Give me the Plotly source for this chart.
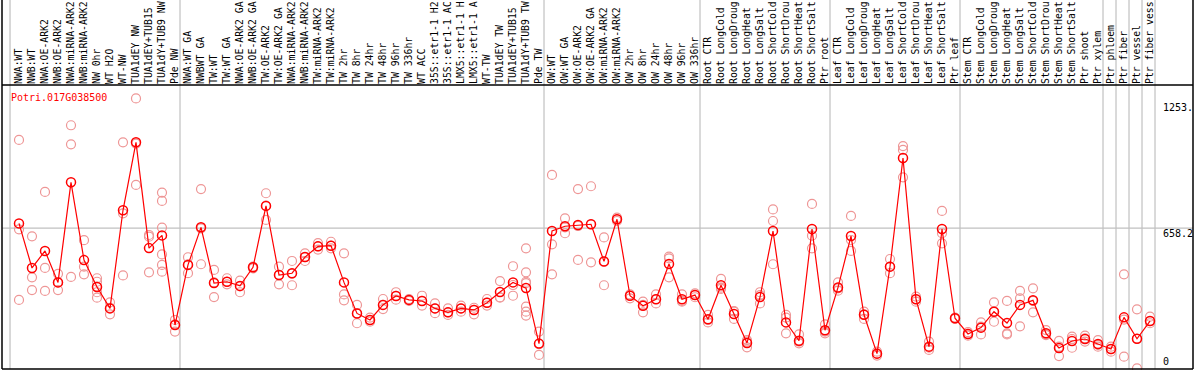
import plotly.graph_objects as go

gene = "Potri.017G038500"

categories = [
    "NWA:WT", "NWB:WT", "NWA:OE-ARK2", "NWB:OE-ARK2", "NWA:miRNA-ARK2", "NWB:miRNA-ARK2",
    "NW 0hr", "WT H2O", "WT-NW", "TUA1dEY NW", "TUA1dEY+TUB15 ", "TUA1dY+TUB9 NW", "Pde NW",
    "NWA:WT GA", "NWBWT GA", "TW:WT", "TW:WT GA", "NWA:OE-ARK2 GA", "NWB:OE-ARK2 GA",
    "TW:OE-ARK2", "TW:OE-ARK2 GA", "NWA:miRNA-ARK2", "NWB:miRNA-ARK2", "TW:miRNA-ARK2",
    "TW:miRNA-ARK2", "TW 2hr", "TW 8hr", "TW 24hr", "TW 48hr", "TW 96hr", "TW 336hr",
    "WT ACC", "35S::etr1-1 H2", "35S::etr1-1 AC", "LMX5::etr1-1 H", "LMX5::etr1-1 A",
    "WT-TW", "TUA1dEY TW", "TUA1dEY+TUB15 ", "TUA1dY+TUB9 TW", "Pde TW",
    "OW:WT", "OW:WT GA", "OW:OE-ARK2", "OW:OE-ARK2 GA", "OW:miRNA-ARK2", "OW:miRNA-ARK2",
    "OW 2hr", "OW 8hr", "OW 24hr", "OW 48hr", "OW 96hr", "OW 336hr",
    "Root CTR", "Root LongCold", "Root LongDroug", "Root LongHeat", "Root LongSalt",
    "Root ShortCold", "Root ShortDrou", "Root ShortHeat", "Root ShortSalt", "Ptr root",
    "Leaf CTR", "Leaf LongCold", "Leaf LongDroug", "Leaf LongHeat", "Leaf LongSalt",
    "Leaf ShortCold", "Leaf ShortDrou", "Leaf ShortHeat", "Leaf ShortSalt", "Ptr leaf",
    "Stem CTR", "Stem LongCold", "Stem LongDroug", "Stem LongHeat", "Stem LongSalt",
    "Stem ShortCold", "Stem ShortDrou", "Stem ShortHeat", "Stem ShortSalt", "Ptr shoot",
    "Ptr xylem", "Ptr phloem", "Ptr fiber", "Ptr vessel", "Ptr fiber vess",
]

means = [
    680, 476, 554, 410, 868, 512, 389, 291, 740, 1051, 567, 625, 215,
    490, 662, 407, 413, 394, 479, 760, 444, 452, 526, 575, 578, 410, 268, 238, 307, 348,
    330, 325, 291, 273, 291, 284, 317, 366, 410, 384, 130,
    645, 667, 673, 676, 506, 699, 349, 303, 333, 494, 333, 352,
    241, 397, 265, 133, 343, 645, 227, 143, 654, 191,
    387, 622, 262, 84, 482, 979, 333, 116, 654, 246,
    174, 203, 276, 224, 307, 328, 177, 110, 142, 151, 128,
    105, 250, 152, 233,
]

replicates = [
    [1062, 653, 330], [621, 433, 375], [824, 476, 371], [449, 410, 375], [1129, 1042, 435],
    [603, 482, 447], [429, 413, 391, 365, 340], [319, 294, 264], [1051, 726, 442],
    [1252, 1045, 856], [627, 619, 456], [821, 783, 661, 538, 490, 459], [238, 218, 185],
    [525, 493, 452], [837, 657, 493], [467, 410, 343], [429, 413, 401], [418, 392, 365],
    [482, 477, 474], [818, 761, 696], [482, 444, 401], [508, 450, 397], [543, 526, 508],
    [590, 575, 560], [596, 578, 566], [543, 355, 328], [307, 269, 223], [249, 238, 230],
    [334, 307, 288], [365, 348, 331], [334, 330, 325], [349, 325, 304], [314, 291, 269],
    [291, 273, 261], [304, 291, 276], [294, 284, 264], [334, 317, 304], [416, 342, 340],
    [484, 398, 349], [566, 456, 413, 407, 299, 276, 258], [185, 127, 78],
    [902, 584, 447], [703, 662, 635], [837, 668, 513], [850, 676, 502], [616, 506, 397],
    [706, 699, 691], [355, 349, 337], [322, 307, 273], [355, 333, 314], [528, 520, 433],
    [355, 325, 322], [360, 352, 342],
    [261, 238, 227], [426, 386, 380], [279, 276, 243], [146, 139, 113], [365, 352, 314],
    [744, 691, 493], [261, 249, 177], [172, 139, 131], [769, 624, 566], [218, 185, 177],
    [410, 383, 372], [714, 604, 554], [276, 264, 243], [93, 84, 75], [517, 482, 452],
    [1034, 1016, 891], [345, 333, 322], [139, 111, 101], [737, 635, 589], [249, 246, 243],
    [182, 174, 166], [227, 208, 172], [319, 276, 230], [325, 177, 172], [371, 337, 209],
    [383, 325, 273], [192, 172, 169], [142, 116, 73], [162, 151, 111], [166, 154, 139],
    [146, 124, 116], [116, 105, 93], [447, 240, 70], [287, 152, 17], [253, 233, 223],
]

# index of the last category in each group (group separators drawn after these)
group_ends = [12, 40, 52, 62, 72, 83, 84, 85, 86, 87]

y_label_values = [1253, 658.2, 0]
y_label_texts = ["1253.", "658.2", "0"]
grid_value = 658.2

# ---------------- layout geometry ----------------
W, H = 1194, 370
ML, MR, MT, MB = 2, 1, 85, 1
plot_w = W - ML - MR
plot_h = H - MT - MB
step_px = 13.0
first_px = 19.0
x_lo = -(first_px - ML) / step_px
x_hi = x_lo + plot_w / step_px
y_lo, y_hi = 13.7, 1313.3
top_paper = 1 + MT / plot_h


def ypaper(v):
    return (v - y_lo) / (y_hi - y_lo)


mono = "DejaVu Sans Mono"
xs = list(range(len(categories)))

rep_x, rep_y = [], []
for i, vals in enumerate(replicates):
    for v in vals:
        rep_x.append(i)
        rep_y.append(v)

fig = go.Figure()
fig.add_trace(go.Scatter(
    x=rep_x, y=rep_y, mode="markers", cliponaxis=False,
    marker=dict(symbol="circle-open", size=9, color="rgb(238,150,150)",
                line=dict(width=1.2, color="rgb(238,150,150)")),
    hoverinfo="skip", showlegend=False))
fig.add_trace(go.Scatter(
    x=xs, y=means, mode="lines+markers", cliponaxis=False,
    line=dict(color="rgb(255,0,0)", width=1.2),
    marker=dict(symbol="circle-open", size=9, color="rgb(255,0,0)",
                line=dict(width=1.5, color="rgb(255,0,0)")),
    showlegend=False))

shapes = []
grey = "rgb(192,192,192)"
sep_positions = [-0.69] + [e + 0.385 for e in group_ends]
for sx in sep_positions:
    shapes.append(dict(type="line", xref="x", yref="paper", x0=sx, x1=sx,
                       y0=0, y1=top_paper, line=dict(color=grey, width=1.2), layer="below"))
shapes.append(dict(type="line", xref="paper", yref="y", x0=0, x1=1,
                   y0=grid_value, y1=grid_value, line=dict(color=grey, width=1.2), layer="below"))
# borders
for (x0, x1, y0, y1) in [(0, 1, 1, 1), (0, 1, 0, 0), (0, 0, 0, top_paper), (1, 1, 0, top_paper)]:
    shapes.append(dict(type="line", xref="paper", yref="paper", x0=x0, x1=x1, y0=y0, y1=y1,
                       line=dict(color="black", width=1.5)))

annotations = [dict(text=gene, xref="paper", yref="paper",
                    x=(9 - ML) / plot_w, y=(H - MB - 97) / plot_h,
                    xanchor="left", yanchor="middle", showarrow=False,
                    font=dict(family=mono, size=10, color="red"))]
label_shift = [-9, -5, 10]
for v, t, s in zip(y_label_values, y_label_texts, label_shift):
    annotations.append(dict(text=t, xref="paper", yref="paper",
                            x=(1161 - ML) / plot_w, y=ypaper(v), yshift=s,
                            xanchor="left", yanchor="middle", showarrow=False,
                            font=dict(family=mono, size=10, color="black")))

fig.update_layout(
    width=W, height=H, margin=dict(l=ML, r=MR, t=MT, b=MB, autoexpand=False),
    paper_bgcolor="white", plot_bgcolor="white",
    xaxis=dict(range=[x_lo, x_hi], side="top", tickmode="array", tickvals=xs,
               ticktext=categories, tickangle=-90, showgrid=False, zeroline=False,
               showline=False, ticks="", ticklen=0,
               tickfont=dict(family=mono, size=9.8, color="black")),
    yaxis=dict(range=[y_lo, y_hi], showgrid=False, zeroline=False, showticklabels=False,
               showline=False, ticks=""),
    shapes=shapes, annotations=annotations,
)

fig.write_html("out.html", config={"displayModeBar": False},
               post_script="document.body.style.margin='0px';document.body.style.overflow='hidden';")
